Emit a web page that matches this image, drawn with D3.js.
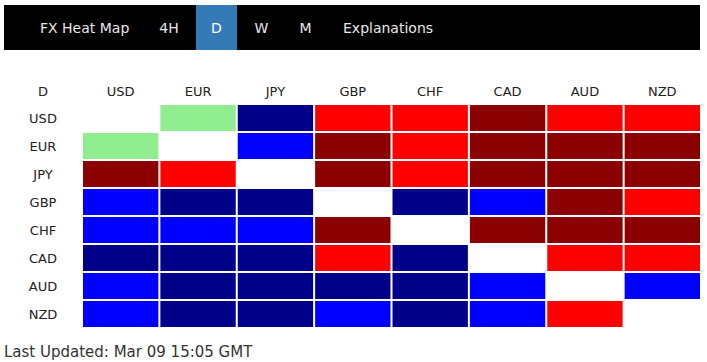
<!DOCTYPE html>
<html>
<head>
<meta charset="utf-8">
<script src="https://cdn.jsdelivr.net/npm/d3@7"></script>
<style>
  body { margin: 0; background: #fff; }
  svg { display: block; font-family: "DejaVu Sans", Verdana, sans-serif; }
</style>
</head>
<body>
<script>
// heat map data - row currency vs column currency
var currencies = ["USD", "EUR", "JPY", "GBP", "CHF", "CAD", "AUD", "NZD"];
var navItems = ["FX Heat Map", "4H", "D", "W", "M", "Explanations"];
var activeNav = "D";
var updated = "Last Updated: Mar 09 15:05 GMT";

// levels: 0 = same pair, n = neutral, r = up, R = strong up, b = down, B = strong down
var usdRow = ["0", "n", "B", "r", "r", "R", "r", "r"];
var eurRow = ["n", "0", "b", "R", "r", "R", "R", "R"];
var jpyRow = ["R", "r", "0", "R", "r", "R", "R", "R"];
var gbpRow = ["b", "B", "B", "0", "B", "b", "R", "r"];
var chfRow = ["b", "b", "b", "R", "0", "R", "R", "R"];
var cadRow = ["B", "B", "B", "r", "B", "0", "r", "r"];
var audRow = ["b", "B", "B", "B", "B", "b", "0", "b"];
var nzdRow = ["b", "B", "B", "b", "B", "b", "r", "0"];
var rows = [usdRow, eurRow, jpyRow, gbpRow, chfRow, cadRow, audRow, nzdRow];

var width = 707, height = 362;

var svg = d3.select("body")
    .append("svg")
    .attr("width", width)
    .attr("height", height);

// nav bar
svg.append("rect")
    .attr("x", 4).attr("y", 5)
    .attr("width", 696).attr("height", 45)
    .attr("fill", "#000");

var navX = [40, 169, 216.5, 261.5, 305.5, 343];
var navAnchor = ["start", "middle", "middle", "middle", "middle", "start"];

svg.append("rect")
    .attr("x", 196).attr("y", 5)
    .attr("width", 41).attr("height", 45)
    .attr("fill", "#337ab7");

svg.append("g")
    .selectAll("text")
    .data(navItems)
    .join("text")
    .attr("x", (d, i) => navX[i])
    .attr("y", 28)
    .attr("dy", "0.36em")
    .attr("text-anchor", (d, i) => navAnchor[i])
    .attr("font-size", 14)
    .attr("fill", d => d == activeNav ? "#fff" : "#e8e8e8")
    .text(d => d);

// heat map
var xscale = d3.scaleBand()
    .domain(currencies)
    .range([83, 700])
    .paddingInner(0.026);

var yscale = d3.scaleBand()
    .domain(currencies)
    .range([105, 327])
    .paddingInner(0.07);

var color = d3.scaleOrdinal()
    .domain(["0", "n", "r", "R", "b", "B"])
    .range(["#fff", "#90ee90", "#ff0000", "#8b0000", "#0000ff", "#000088"]);

var cells = [];
rows.forEach(function(row, i) {
    row.forEach(function(v, j) {
        cells.push({row: currencies[i], col: currencies[j], level: v});
    });
});

svg.append("g")
    .selectAll("rect")
    .data(cells)
    .join("rect")
    .attr("x", d => xscale(d.col))
    .attr("y", d => yscale(d.row))
    .attr("width", xscale.bandwidth())
    .attr("height", yscale.bandwidth())
    .attr("fill", d => color(d.level));

// column labels
svg.append("g")
    .selectAll("text")
    .data(currencies)
    .join("text")
    .attr("x", d => xscale(d) + xscale.bandwidth() / 2)
    .attr("y", 91)
    .attr("dy", "0.36em")
    .attr("text-anchor", "middle")
    .attr("font-size", 13)
    .attr("fill", "#222")
    .text(d => d);

// row labels
svg.append("g")
    .selectAll("text")
    .data(currencies)
    .join("text")
    .attr("x", 43)
    .attr("y", d => yscale(d) + yscale.bandwidth() / 2)
    .attr("dy", "0.36em")
    .attr("text-anchor", "middle")
    .attr("font-size", 13)
    .attr("fill", "#222")
    .text(d => d);

svg.append("text")
    .attr("x", 43).attr("y", 91)
    .attr("dy", "0.36em")
    .attr("text-anchor", "middle")
    .attr("font-size", 13)
    .attr("fill", "#222")
    .text(activeNav);

svg.append("text")
    .attr("x", 4).attr("y", 357)
    .attr("font-size", 15)
    .attr("fill", "#333")
    .text(updated);
</script>
</body>
</html>
